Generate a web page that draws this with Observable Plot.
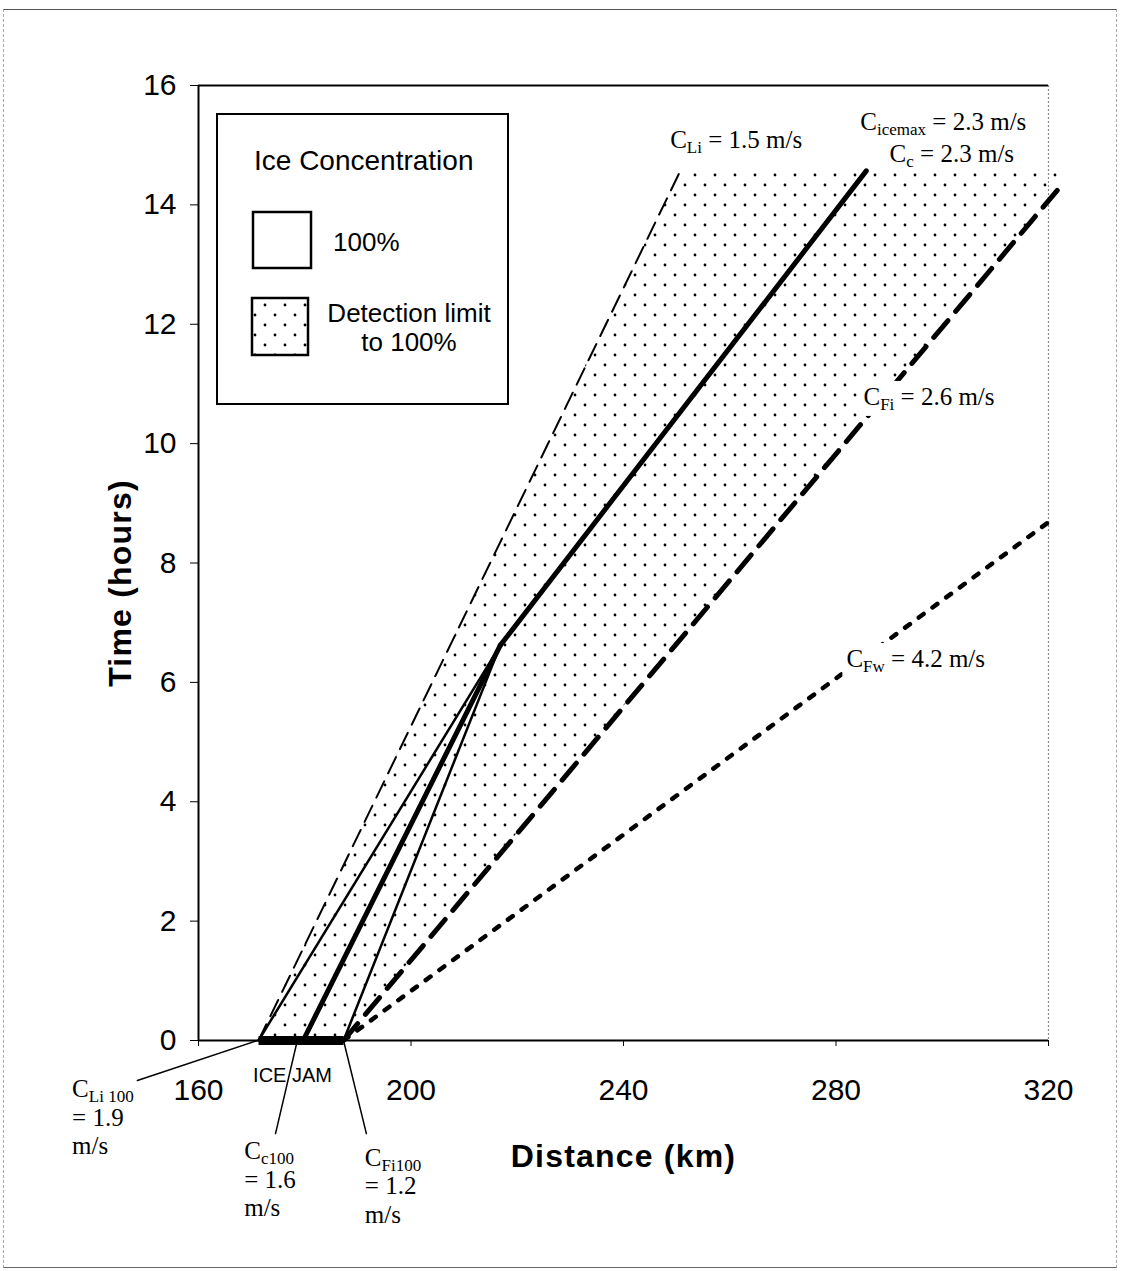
<!DOCTYPE html>
<html><head><meta charset="utf-8">
<script src="https://cdn.jsdelivr.net/npm/d3@7"></script>
<script src="https://cdn.jsdelivr.net/npm/@observablehq/plot@0.6"></script>
<style>
html,body{margin:0;padding:0;background:#fff;}
#wrap{position:relative;width:1122px;height:1271px;overflow:hidden;background:#fff;}
#border{position:absolute;left:3px;top:9px;width:1114px;height:1259px;border-top:1.5px solid #555;border-bottom:1.5px solid #666;border-left:1px dashed #aaa;border-right:1px dashed #aaa;box-sizing:border-box;}
#chart{position:absolute;left:0;top:0;}
</style></head><body>
<div id="wrap"><div id="border"></div><div id="chart"></div></div>
<script>
// ---- data (distance in km, time in hours) ----
const xTicks = [160, 200, 240, 280, 320];
const yTicks = [0, 2, 4, 6, 8, 10, 12, 14, 16];

const iceJam    = [{km: 171.3, h: 0}, {km: 187.3, h: 0}];
const lineLi    = [{km: 171.3, h: 0}, {km: 250.7, h: 14.57}];   // C_Li = 1.5 m/s
const lineLi100 = [{km: 171.3, h: 0}, {km: 216.8, h: 6.62}];    // C_Li100 = 1.9 m/s
const lineC100  = [{km: 179.7, h: 0}, {km: 216.8, h: 6.62}];    // C_c100 = 1.6 m/s
const lineFi100 = [{km: 187.3, h: 0}, {km: 216.8, h: 6.62}];    // C_Fi100 = 1.2 m/s
const lineC     = [{km: 216.8, h: 6.62}, {km: 285.7, h: 14.57}]; // C_c = 2.3 m/s
const lineFi    = [{km: 187.3, h: 0}, {km: 321.9, h: 14.27}];   // C_Fi = 2.6 m/s
const lineFw    = [{km: 187.3, h: 0}, {km: 320.4, h: 8.71}];    // C_Fw = 4.2 m/s
const stippleBand = [{h: 0, left: 171.3, right: 187.3}, {h: 14.57, left: 250.7, right: 324.6}];

const leaderLi100 = [{km: 171.1, h: 0}, {km: 148.5, h: -0.67}];
const leaderC100  = [{km: 178.6, h: 0}, {km: 174.5, h: -1.56}];
const leaderFi100 = [{km: 187.3, h: 0}, {km: 191.6, h: -1.56}];

// label texts: [main, subscript, rest]
const topLabels = [
  [["C", "Li", " = 1.5 m/s"]],
  [["C", "icemax", " = 2.3 m/s"]],
  [["C", "c", " = 2.3 m/s"]]
];
const topLabelAt = [{km: 261.3, h: 14.94}, {km: 300.3, h: 15.25}, {km: 301.9, h: 14.71}];
const sideLabels = [
  [["C", "Fi", " = 2.6 m/s"]],
  [["C", "Fw", " = 4.2 m/s"]]
];
const sideLabelAt = [{km: 297.6, h: 10.64}, {km: 295.1, h: 6.25}];
const jamLabels = [
  [["C", "Li 100", ""], ["= 1.9"], ["m/s"]],
  [["C", "c100", ""], ["= 1.6"], ["m/s"]],
  [["C", "Fi100", ""], ["= 1.2"], ["m/s"]]
];
const jamLabelAt = [{km: 136.3, h: -0.96}, {km: 168.7, h: -2.00}, {km: 191.4, h: -2.11}];
const jamText = ["ICE JAM"];
const jamTextAt = [{km: 177.8, h: -0.70}];

const sans = "'Liberation Sans', Arial, Helvetica, sans-serif";
const serif = "'Liberation Serif', 'Times New Roman', serif";

function richLabels(texts, at, {anchor = "middle", font = serif, size = 25, subSize = 17, lineHeight = 28.5, boxed = false} = {}) {
  return (index, scales) => {
    const g = d3.create("svg:g").attr("font-family", font).attr("font-size", size).attr("fill", "black");
    texts.forEach((lines, i) => {
      const px = scales.x(at[i].km), py = scales.y(at[i].h);
      lines.forEach((parts, j) => {
        const t = g.append("text").attr("x", px).attr("y", py + j * lineHeight).attr("text-anchor", anchor);
        if (boxed) t.attr("class", "boxed-label");
        t.append("tspan").text(parts[0]);
        if (parts.length > 1) {
          t.append("tspan").attr("font-size", subSize).attr("dy", 5).text(parts[1]);
          if (parts[2]) t.append("tspan").attr("dy", -5).text(parts[2]);
        }
      });
    });
    return g.node();
  };
}

const pos = {x: "km", y: "h"};
const plot = Plot.plot({
  width: 1122, height: 1271,
  marginLeft: 198, marginRight: 74, marginTop: 85, marginBottom: 231,
  x: {domain: [160, 320]},
  y: {domain: [0, 16]},
  style: {fontFamily: sans, background: "transparent", overflow: "visible", color: "black"},
  marks: [
    Plot.areaX(stippleBand, {y: "h", x1: "left", x2: "right", fill: "url(#stipple)"}),
    Plot.ruleY([16], {stroke: "black", strokeWidth: 2}),
    Plot.ruleX([320], {stroke: "#888", strokeWidth: 1.2, strokeDasharray: "2,2"}),
    Plot.ruleX([160], {stroke: "black", strokeWidth: 2}),
    Plot.ruleY([0], {stroke: "black", strokeWidth: 2}),
    Plot.axisX({ticks: xTicks, tickSize: 6, tickPadding: 32, fontSize: 30, label: null, tickFormat: d => String(d)}),
    Plot.axisY({ticks: yTicks, tickSize: 8, tickPadding: 14, fontSize: 30, label: null, tickFormat: d => String(d)}),
    Plot.line(lineLi, {...pos, stroke: "black", strokeWidth: 2, strokeDasharray: "18,9"}),
    Plot.line(lineLi100, {...pos, stroke: "black", strokeWidth: 2.5}),
    Plot.line(lineFi100, {...pos, stroke: "black", strokeWidth: 2.5}),
    Plot.line(lineC100, {...pos, stroke: "black", strokeWidth: 5}),
    Plot.line(lineC, {...pos, stroke: "black", strokeWidth: 5}),
    Plot.line(lineFi, {...pos, stroke: "black", strokeWidth: 5, strokeDasharray: "22,12"}),
    Plot.line(lineFw, {...pos, stroke: "black", strokeWidth: 4.5, strokeDasharray: "6,11"}),
    Plot.line(iceJam, {...pos, stroke: "black", strokeWidth: 9, strokeLinecap: "butt"}),
    Plot.line(leaderLi100, {...pos, stroke: "black", strokeWidth: 1.5}),
    Plot.line(leaderC100, {...pos, stroke: "black", strokeWidth: 1.5}),
    Plot.line(leaderFi100, {...pos, stroke: "black", strokeWidth: 1.5}),
    richLabels(topLabels, topLabelAt, {anchor: "middle"}),
    richLabels(sideLabels, sideLabelAt, {anchor: "middle", boxed: true}),
    richLabels(jamLabels, jamLabelAt, {anchor: "start"}),
    richLabels(jamText.map(t => [[t]]), jamTextAt, {anchor: "middle", font: sans, size: 20}),
    Plot.text(["Distance (km)"], {frameAnchor: "bottom", textAnchor: "middle", lineAnchor: "middle", dy: 116, fontSize: 32, fontWeight: "bold", fontFamily: sans}),
    Plot.text(["Time (hours)"], {frameAnchor: "left", textAnchor: "middle", lineAnchor: "middle", rotate: -90, dx: -78, dy: 20, fontSize: 32, fontWeight: "bold", fontFamily: sans})
  ]
});

const svg = d3.select(plot);
const defs = svg.insert("defs", ":first-child");
const pat = defs.append("pattern").attr("id", "stipple").attr("patternUnits", "userSpaceOnUse").attr("width", 20).attr("height", 20);
pat.append("circle").attr("cx", 5).attr("cy", 5).attr("r", 1.4).attr("fill", "black");
pat.append("circle").attr("cx", 15).attr("cy", 15).attr("r", 1.4).attr("fill", "black");

svg.selectAll("text").filter(function() { return this.textContent === "Distance (km)" || this.textContent === "Time (hours)"; })
  .attr("letter-spacing", "1.2px");

// legend
const leg = svg.append("g").attr("font-family", sans).attr("fill", "black").attr("text-anchor", "start");
leg.append("rect").attr("x", 217).attr("y", 114).attr("width", 291).attr("height", 290).attr("fill", "white").attr("stroke", "black").attr("stroke-width", 2);
leg.append("text").attr("x", 254).attr("y", 170).attr("font-size", 28).attr("text-anchor", "start").text("Ice Concentration");
leg.append("rect").attr("x", 253).attr("y", 212).attr("width", 58).attr("height", 56).attr("fill", "white").attr("stroke", "black").attr("stroke-width", 2.5);
leg.append("text").attr("x", 333).attr("y", 251).attr("font-size", 26).attr("text-anchor", "start").text("100%");
leg.append("rect").attr("x", 252).attr("y", 298).attr("width", 56).attr("height", 57).attr("fill", "url(#stipple)").attr("stroke", "black").attr("stroke-width", 2.5);
leg.append("text").attr("x", 409).attr("y", 322).attr("font-size", 26).attr("text-anchor", "middle").text("Detection limit");
leg.append("text").attr("x", 409).attr("y", 351).attr("font-size", 26).attr("text-anchor", "middle").text("to 100%");

document.getElementById("chart").appendChild(plot);

// white boxes behind labels that sit on lines
svg.selectAll("text.boxed-label").each(function() {
  const b = this.getBBox();
  d3.select(this.parentNode).insert("rect", () => this)
    .attr("x", b.x - 4).attr("y", b.y - 2).attr("width", b.width + 8).attr("height", b.height + 4)
    .attr("fill", "white");
});
</script>
</body></html>
